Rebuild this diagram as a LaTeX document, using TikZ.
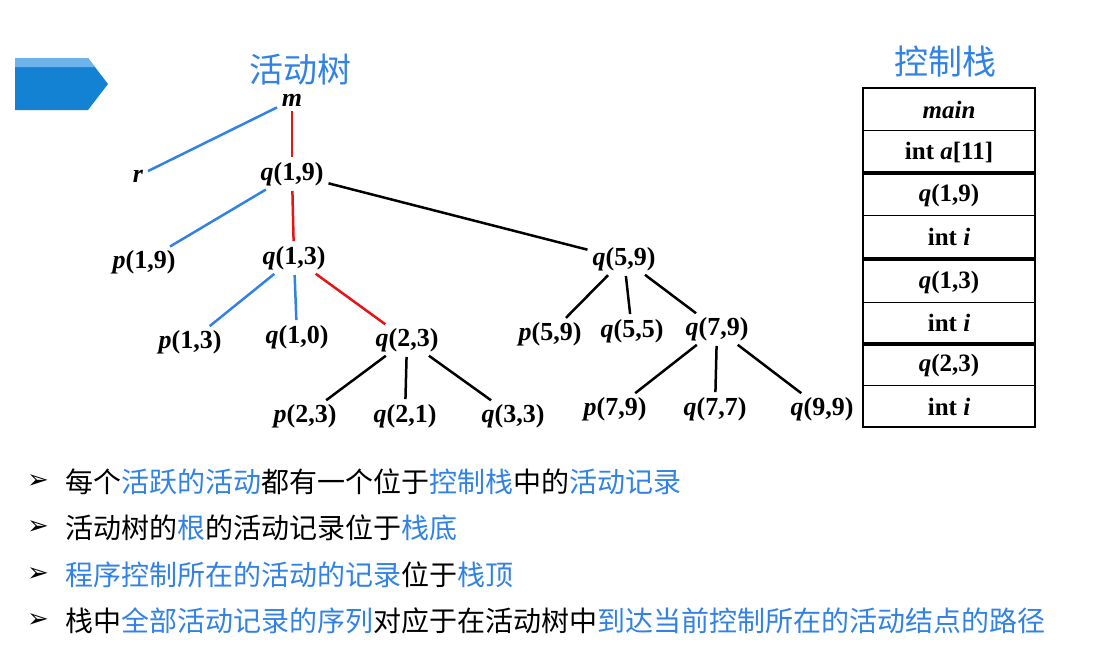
\documentclass[tikz,border=0pt]{standalone}
\usepackage{fontspec}
\setmainfont{Liberation Serif}
\newfontfamily\cjk{Noto Sans CJK SC}
\newfontfamily\dejavu{DejaVu Sans}
\definecolor{hlblue}{RGB}{50,130,230}
\definecolor{hlred}{RGB}{230,20,20}
\begin{document}
\begin{tikzpicture}[x=1pt,y=1pt,yscale=-1,xscale=1,
  lbl/.style={inner sep=2pt,font=\fontsize{26}{30}\selectfont\bfseries\itshape},
  cell/.style={font=\fontsize{25}{30}\selectfont\bfseries},
  edge/.style={line width=2.5pt,shorten >=3pt,shorten <=3pt},
  redge/.style={edge,color=hlred},
  bedge/.style={edge,color=hlblue},
  hl/.style={color=hlblue},
  bul/.style={anchor=west,inner sep=0pt,font=\cjk\fontsize{28}{32}\selectfont}]
\useasboundingbox (0,0) rectangle (1107,657);

% banner shape
\fill [color={rgb,255:red,20;green,130;blue,210}] (15,58) -- (88,58) -- (108,84) -- (88,110) -- (15,110) -- cycle;
\fill [color={rgb,255:red,110;green,180;blue,235}] (15,58) -- (88,58) -- (95,67) -- (15,67) -- cycle;

% titles
\node [hl,font=\cjk\fontsize{34}{38}\selectfont] at (300,70) {活动树};
\node [hl,font=\cjk\fontsize{34}{38}\selectfont] at (945,62) {控制栈};

% tree nodes
\node [lbl] (m) at (292,100) {m};
\node [lbl] (r) at (138,176) {r};
\node [lbl] (q19) at (292,174) {q\upshape(1,9)};
\node [lbl] (p19) at (144,262) {p\upshape(1,9)};
\node [lbl] (q13) at (294,258) {q\upshape(1,3)};
\node [lbl] (q59) at (624,259) {q\upshape(5,9)};
\node [lbl] (p13) at (190,342) {p\upshape(1,3)};
\node [lbl] (q10) at (297,337) {q\upshape(1,0)};
\node [lbl] (q23) at (407,340) {q\upshape(2,3)};
\node [lbl] (p59) at (550,334) {p\upshape(5,9)};
\node [lbl] (q55) at (632,331) {q\upshape(5,5)};
\node [lbl] (q79) at (717,329) {q\upshape(7,9)};
\node [lbl] (p23) at (305,416) {p\upshape(2,3)};
\node [lbl] (q21) at (405,416) {q\upshape(2,1)};
\node [lbl] (q33) at (513,416) {q\upshape(3,3)};
\node [lbl] (p79) at (615,409) {p\upshape(7,9)};
\node [lbl] (q77) at (715,409) {q\upshape(7,7)};
\node [lbl] (q99) at (822,409) {q\upshape(9,9)};

% tree edges
\draw [bedge] (m) -- (r);
\draw [redge] (m) -- (q19);
\draw [bedge] (q19) -- (p19);
\draw [redge] (q19) -- (q13);
\draw [edge] (q19) -- (q59);
\draw [bedge] (q13) -- (p13);
\draw [bedge] (q13) -- (q10);
\draw [redge] (q13) -- (q23);
\draw [edge] (q23) -- (p23);
\draw [edge] (q23) -- (q21);
\draw [edge] (q23) -- (q33);
\draw [edge] (q59) -- (p59);
\draw [edge] (q59) -- (q55);
\draw [edge] (q59) -- (q79);
\draw [edge] (q79) -- (p79);
\draw [edge] (q79) -- (q77);
\draw [edge] (q79) -- (q99);

% control stack
\draw [line width=2.5pt] (863,88) rectangle (1035,427);
\foreach \y in {130,215,302,385} \draw [line width=1pt] (863,\y) -- (1035,\y);
\foreach \y in {173,259,344} \draw [line width=3.5pt] (863,\y) -- (1035,\y);
\node [cell] (s1) at (949,110) {\itshape main};
\node [cell] (s2) at (949,152) {int \itshape a\upshape[11]};
\node [cell] (s3) at (949,195) {\itshape q\upshape(1,9)};
\node [cell] (s4) at (949,237) {int \itshape i};
\node [cell] (s5) at (949,282) {\itshape q\upshape(1,3)};
\node [cell] (s6) at (949,323) {int \itshape i};
\node [cell] (s7) at (949,365) {\itshape q\upshape(2,3)};
\node [cell] (s8) at (949,407) {int \itshape i};

% bullets
\foreach \y in {482,528,575,621}
  \node [font=\dejavu\bfseries\fontsize{26}{28}\selectfont] at (38,\y) {➢};
\node [bul] (b1) at (65,482) {每个{\color{hlblue}活跃的活动}都有一个位于{\color{hlblue}控制栈}中的{\color{hlblue}活动记录}};
\node [bul] (b2) at (65,528) {活动树的{\color{hlblue}根}的活动记录位于{\color{hlblue}栈底}};
\node [bul] (b3) at (65,575) {{\color{hlblue}程序控制所在的活动的记录}位于{\color{hlblue}栈顶}};
\node [bul] (b4) at (65,621) {栈中{\color{hlblue}全部活动记录的序列}对应于在活动树中{\color{hlblue}到达当前控制所在的活动结点的路径}};
\end{tikzpicture}
\end{document}
